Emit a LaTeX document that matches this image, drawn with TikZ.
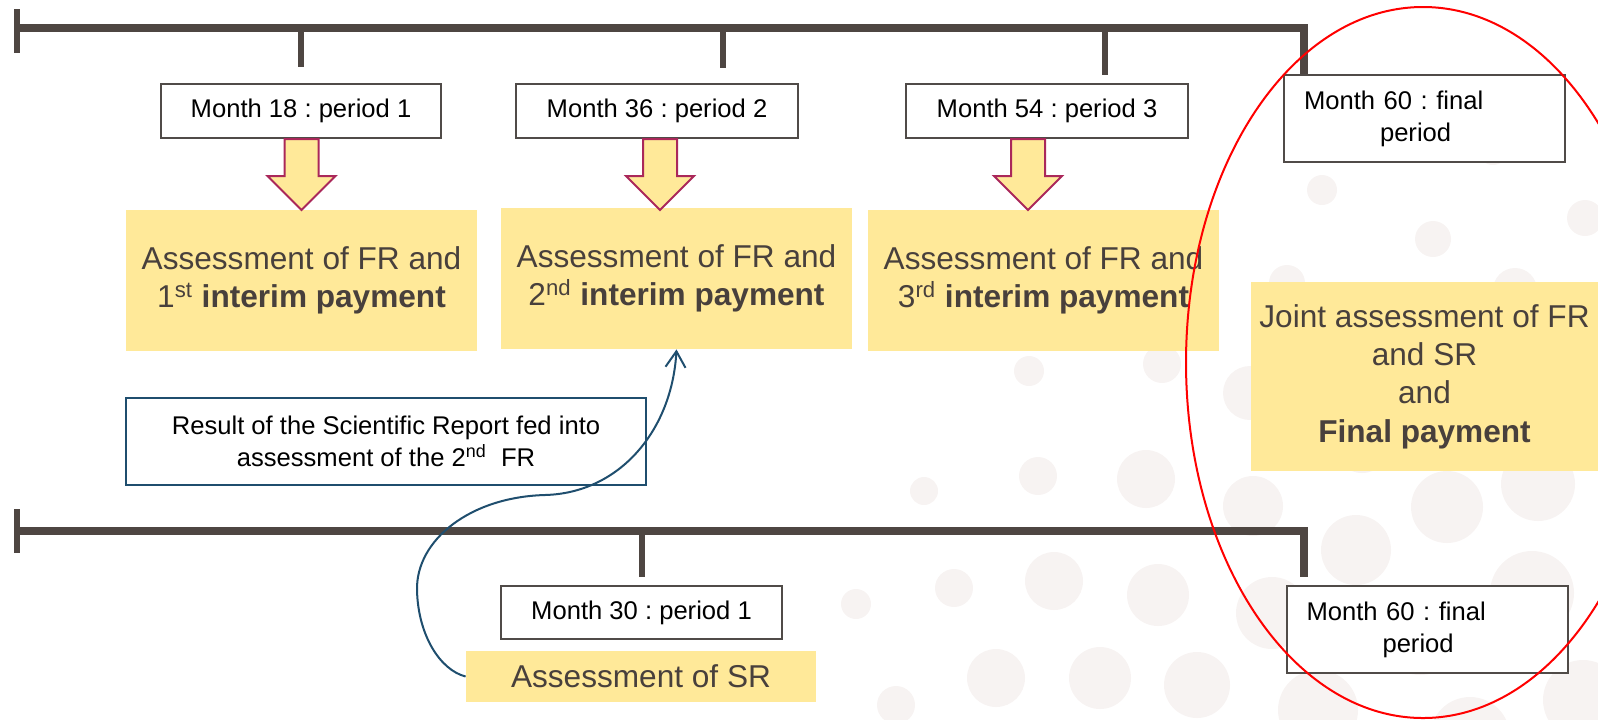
\documentclass[tikz,border=0pt]{standalone}
\usepackage{fontspec}
\setmainfont{Liberation Sans}
\usetikzlibrary{arrows.meta}
\frenchspacing

\definecolor{paleyellow}{RGB}{255,233,153}
\definecolor{darktext}{RGB}{72,64,60}
\definecolor{linebrown}{RGB}{78,70,66}
\definecolor{boxgrey}{RGB}{80,75,72}
\definecolor{arrowred}{RGB}{170,40,90}
\definecolor{reportblue}{RGB}{31,78,110}
\definecolor{dotgrey}{RGB}{247,243,242}

\newcommand{\monthfont}{\fontsize{12.8}{16}\selectfont}
\newcommand{\assessfont}{\fontsize{15.8}{19.2}\selectfont}
% yellow arrow below a month box
\newcommand{\periodarrow}[2]{%
  \draw[blockarrow,shift={(#1,0 |- #2.south)}] (-17,0) -- (17,0) -- (17,37) -- (34,37)
    -- (0,71) -- (-34,37) -- (-17,37) -- cycle;}

\begin{document}
\begin{tikzpicture}[x=0.5pt,y=-0.5pt,
  timeline/.style={draw=linebrown,line width=4pt},
  tick/.style={draw=linebrown,line width=2.8pt},
  monthbox/.style={draw=boxgrey,line width=1pt,fill=white,inner sep=0pt,font=\monthfont,minimum height=27pt},
  finalbox/.style={monthbox,align=left,text width=120.5pt,inner xsep=10pt,minimum height=43.5pt},
  assessbox/.style={fill=paleyellow,text=darktext,inner sep=0pt,align=center,font=\assessfont,minimum width=175.5pt,minimum height=70.5pt},
  blockarrow/.style={draw=arrowred,fill=paleyellow,line width=1pt,line join=miter},
  feedback/.style={draw=reportblue,line width=1pt,-{Straight Barb[length=8pt,width=10pt]}},
  dot/.style={fill=dotgrey}]
  \useasboundingbox (0,0) rectangle (1598,719);
  \clip (0,0) rectangle (1598,719);

  % background dots
  \foreach \x/\y/\r in {1322/190/7.5pt,1433/239/9pt,1585/218/9pt,1493/150/7.5pt,1287/283/9pt,
    1515/290/11pt,1029/371/7.5pt,1162/364/9.5pt,924/491/7pt,1038/476/9.5pt,1146/479/14.5pt,
    1250/393/13.5pt,1253/506/15pt,1447/507/18pt,1538/484/18.5pt,1356/550/17.5pt,1362/445/14pt,
    856/604/7.5pt,954/588/9.5pt,1054/581/14.5pt,1158/595/15.5pt,896/705/9.5pt,996/678/14.5pt,
    1100/678/15.5pt,1197/685/16.5pt,1272/613/18pt,1420/633/21pt,1532/593/21pt,1318/710/20pt,
    1470/737/20pt,1583/700/20pt}
    \fill[dot] (\x,\y) circle [radius=\r];

  \node[monthbox,minimum width=140pt] (m18) at (301,111) {Month 18 : period 1};
  \node[monthbox,minimum width=141pt] (m36) at (657,111) {Month 36 : period 2};
  \node[monthbox,minimum width=141pt] (m54) at (1047,111) {Month 54 : period 3};
  \node[finalbox] (m60) at (1424.5,118.5) {Month 60 : final\\\hspace*{38pt}period};

  \node[assessbox] (ass1) at (301.5,280.5) {Assessment of FR and\\1\textsuperscript{st} \textbf{interim payment}};
  \node[assessbox] (ass2) at (676.5,278.5) {Assessment of FR and\\2\textsuperscript{nd} \textbf{interim payment}};
  \node[assessbox] (ass3) at (1043.5,280.5) {Assessment of FR and\\3\textsuperscript{rd} \textbf{interim payment}};
  \node[assessbox,minimum width=173.5pt,minimum height=94.5pt] (joint) at (1424.5,376.5)
    {Joint assessment of FR\\and SR\\and\\\textbf{Final payment}};

  \node[draw=reportblue,line width=1pt,fill=white,font=\monthfont,align=center,inner sep=0pt,
    minimum width=260pt,minimum height=43.5pt] (result) at (386,441.5)
    {Result of the Scientific Report fed into\\assessment of the 2\textsuperscript{nd}\ \ FR};

  \node[monthbox,minimum width=140.5pt,minimum height=26.5pt] (m30) at (641.5,612.5) {Month 30 : period 1};
  \node[finalbox] (m60b) at (1427,629.5) {Month 60 : final\\\hspace*{38pt}period};
  \node[assessbox,minimum width=175pt,minimum height=25.5pt] (sr) at (641,676.5) {Assessment of SR};

  % upper time line
  \coordinate (top0) at (17,27.5);
  \coordinate (top1) at (1304,27.5);
  \draw[timeline] (top0) -- (top1) -- (top1 |- m60.north);
  \draw[tick] (17,9) -- (17,53);
  \draw[tick] (301,27.5) -- (301,67);
  \draw[tick] (723,27.5) -- (723,68);
  \draw[tick] (1105,27.5) -- (1105,75);

  % lower time line
  \coordinate (low0) at (17,531);
  \coordinate (low1) at (1304,531);
  \draw[timeline] (low0) -- (low1) -- (1304,577);
  \draw[tick] (17,509) -- (17,553);
  \draw[tick] (642,531) -- (642,577);

  \periodarrow{301.5}{m18}
  \periodarrow{660}{m36}
  \periodarrow{1028}{m54}

  \draw[feedback] (sr.west) .. controls (440,670) and (418,635) .. (417,590)
    .. controls (416,540) and (470,497) .. (545,495)
    .. controls (620,493) and (672,430) .. (ass2.south);

  \draw[red,line width=1pt] (1423,362.5) ellipse [x radius=118.5pt,y radius=177.75pt];
\end{tikzpicture}
\end{document}
